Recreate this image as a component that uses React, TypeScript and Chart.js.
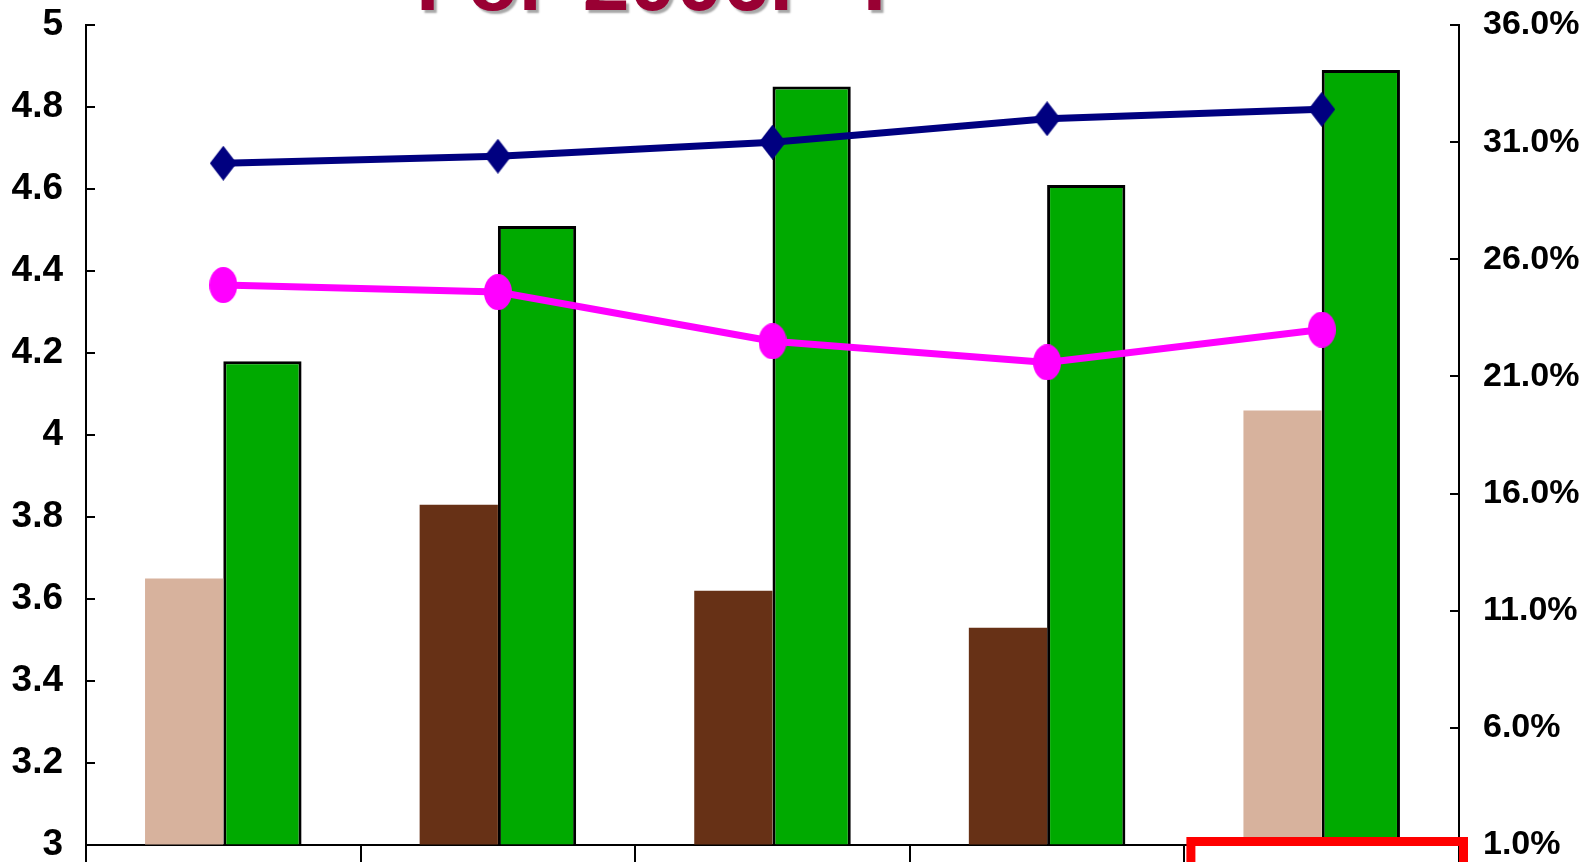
import React, { useEffect, useRef } from "react";
import { Chart, registerables } from "chart.js";

Chart.register(...registerables);

// ---- data ----
const categories = ["2003", "2004", "2005", "2006F", "2007F"];
const lowerBarValues = [3.65, 3.83, 3.62, 3.53, 4.06];
const lowerBarColors = ["#D7B29D", "#673116", "#673116", "#673116", "#D7B29D"];
const greenBarValues = [4.18, 4.51, 4.85, 4.61, 4.89];
const navyLineValues = [30.1, 30.4, 31.0, 32.0, 32.4];
const magentaLineValues = [24.9, 24.6, 22.5, 21.6, 23.0];
const leftTickValues = [3, 3.2, 3.4, 3.6, 3.8, 4, 4.2, 4.4, 4.6, 4.8, 5];
const rightTickValues = [1, 6, 11, 16, 21, 26, 31, 36];
const titleText = "For 2006F-T";

const FONT = "'Liberation Sans', Arial, sans-serif";

function makeDiamond(w: number, h: number, color: string) {
  const c = document.createElement("canvas");
  c.width = w;
  c.height = h;
  const g = c.getContext("2d")!;
  g.fillStyle = color;
  g.beginPath();
  g.moveTo(w / 2, 0);
  g.lineTo(w, h / 2);
  g.lineTo(w / 2, h);
  g.lineTo(0, h / 2);
  g.closePath();
  g.fill();
  return c;
}

function makeEllipse(w: number, h: number, color: string) {
  const c = document.createElement("canvas");
  c.width = w;
  c.height = h;
  const g = c.getContext("2d")!;
  g.fillStyle = color;
  g.beginPath();
  g.ellipse(w / 2, h / 2, w / 2, h / 2, 0, 0, Math.PI * 2);
  g.fill();
  return c;
}

const innerTicksPlugin = {
  id: "innerTicks",
  afterDraw(chart: any) {
    const ctx = chart.ctx;
    const yl = chart.scales.y;
    const yr = chart.scales.y2;
    ctx.save();
    ctx.strokeStyle = "#000";
    ctx.lineWidth = 2;
    yl.ticks.forEach((t: any) => {
      const p = Math.round(yl.getPixelForValue(t.value));
      ctx.beginPath();
      ctx.moveTo(yl.right, p);
      ctx.lineTo(yl.right + 9, p);
      ctx.stroke();
    });
    yr.ticks.forEach((t: any) => {
      const p = Math.round(yr.getPixelForValue(t.value));
      ctx.beginPath();
      ctx.moveTo(yr.left, p);
      ctx.lineTo(yr.left - 9, p);
      ctx.stroke();
    });
    ctx.restore();
  },
};

const highlightPlugin = {
  id: "highlight",
  afterDraw(chart: any) {
    const ctx = chart.ctx;
    const x = chart.scales.x;
    const area = chart.chartArea;
    const n = categories.length;
    const boundary = (x.getPixelForValue(n - 2) + x.getPixelForValue(n - 1)) / 2;
    ctx.save();
    ctx.strokeStyle = "#FF0000";
    ctx.lineWidth = 9;
    const left = boundary + 6.5;
    const right = area.right + 4.5;
    const top = area.bottom - 3.5;
    ctx.strokeRect(left, top, right - left, 200);
    ctx.restore();
  },
};

export default function App() {
  const ref = useRef<HTMLCanvasElement | null>(null);

  useEffect(() => {
    if (!ref.current) return;
    const diamond = makeDiamond(27, 35, "#000080");
    const ellipse = makeEllipse(28, 36, "#FF00FF");
    const leftFont = { family: FONT, size: 37, weight: "bold" as const, lineHeight: 0.8 };
    const rightFont = { family: FONT, size: 34, weight: "bold" as const, lineHeight: 0.8 };

    const chart = new Chart(ref.current, {
      type: "bar",
      data: {
        labels: categories,
        datasets: [
          {
            type: "line",
            data: navyLineValues,
            yAxisID: "y2",
            borderColor: "#000080",
            borderWidth: 7,
            pointStyle: diamond as any,
            pointRadius: 14,
            pointBorderWidth: 0,
            tension: 0,
            order: 0,
          } as any,
          {
            type: "line",
            data: magentaLineValues,
            yAxisID: "y2",
            borderColor: "#FF00FF",
            borderWidth: 7,
            pointStyle: ellipse as any,
            pointRadius: 14,
            pointBorderWidth: 0,
            tension: 0,
            order: 0,
          } as any,
          {
            type: "bar",
            data: lowerBarValues,
            yAxisID: "y",
            backgroundColor: lowerBarColors,
            borderWidth: 0,
            base: 3,
            categoryPercentage: 0.57,
            barPercentage: 1,
            order: 1,
          } as any,
          {
            type: "bar",
            data: greenBarValues,
            yAxisID: "y",
            backgroundColor: "#00AA00",
            borderColor: "#000000",
            borderWidth: 3,
            base: 3,
            categoryPercentage: 0.57,
            barPercentage: 1,
            order: 1,
          } as any,
        ],
      },
      options: {
        animation: false,
        responsive: false,
        devicePixelRatio: 1,
        layout: { autoPadding: false, padding: { top: 25, left: 0, right: 0, bottom: 0 } },
        plugins: {
          legend: { display: false },
          tooltip: { enabled: false },
          title: { display: false },
        },
        scales: {
          x: {
            type: "category",
            offset: true,
            grid: {
              display: true,
              drawOnChartArea: false,
              drawTicks: true,
              tickLength: 20,
              offset: true,
              color: "#000",
              lineWidth: 2,
            },
            border: { display: true, color: "#000", width: 2 },
            ticks: { display: false },
            afterFit: (s: any) => {
              s.height = 17;
              s.paddingLeft = 0;
              s.paddingRight = 0;
            },
          },
          y: {
            type: "linear",
            position: "left",
            min: 3,
            max: 5,
            afterBuildTicks: (s: any) => {
              s.ticks = leftTickValues.map((v) => ({ value: v }));
            },
            ticks: {
              color: "#000",
              font: leftFont,
              padding: 23,
              callback: (v: any) => String(Number(Number(v).toFixed(1))),
            },
            grid: { drawOnChartArea: false, drawTicks: false },
            border: { display: true, color: "#000", width: 2 },
            afterFit: (s: any) => {
              s.width = 86;
              s.paddingTop = 0;
              s.paddingBottom = 0;
            },
          },
          y2: {
            type: "linear",
            position: "right",
            min: 1,
            max: 36,
            afterBuildTicks: (s: any) => {
              s.ticks = rightTickValues.map((v) => ({ value: v }));
            },
            ticks: {
              color: "#000",
              font: rightFont,
              padding: 24,
              callback: (v: any) => Number(v).toFixed(1) + "%",
            },
            grid: { drawOnChartArea: false, drawTicks: false },
            border: { display: true, color: "#000", width: 2 },
            afterFit: (s: any) => {
              s.width = 133;
              s.paddingTop = 0;
              s.paddingBottom = 0;
            },
          },
        },
      },
      plugins: [innerTicksPlugin, highlightPlugin],
    });

    return () => chart.destroy();
  }, []);

  return (
    <div
      style={{
        position: "absolute",
        left: 0,
        top: 0,
        width: 1592,
        height: 862,
        overflow: "hidden",
        background: "#fff",
      }}
    >
      <canvas ref={ref} width={1592} height={862} style={{ display: "block" }} />
      <div
        style={{
          position: "absolute",
          left: 416,
          top: -61,
          fontFamily: FONT,
          fontWeight: "bold",
          fontSize: 84,
          lineHeight: 1,
          wordSpacing: 8,
          color: "#990033",
          whiteSpace: "nowrap",
          textShadow: "3px 3px 2px rgba(0,0,0,0.35)",
        }}
      >
        {titleText}
      </div>
    </div>
  );
}
